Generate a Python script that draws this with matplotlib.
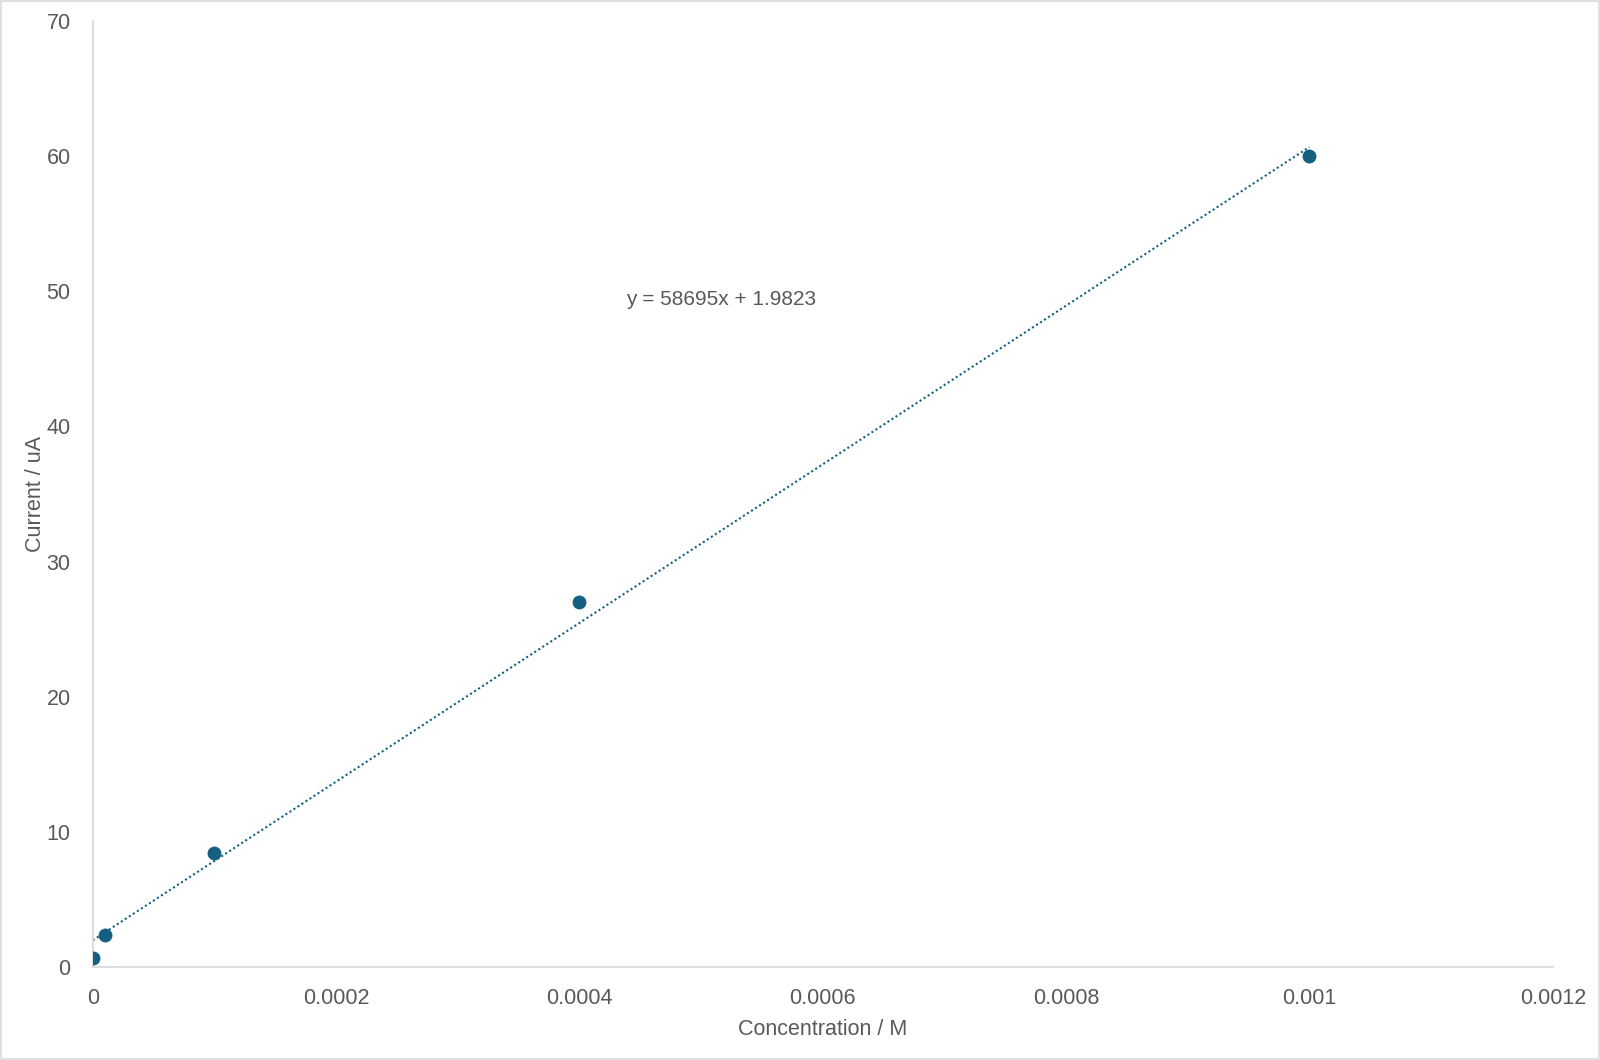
import numpy as np
import matplotlib
matplotlib.use("Agg")
import matplotlib.pyplot as plt
from matplotlib.patches import Rectangle

# values
conc = [0.0, 0.00001, 0.0001, 0.0004, 0.001]
current = [0.65, 2.35, 8.45, 27.0, 60.0]

# trendline as printed on the chart
slope = 58695
intercept = 1.9823
eq_label = "y = 58695x + 1.9823"

x_ticks = [0, 0.0002, 0.0004, 0.0006, 0.0008, 0.001, 0.0012]
x_tick_labels = ["0", "0.0002", "0.0004", "0.0006", "0.0008", "0.001", "0.0012"]
y_ticks = [0, 10, 20, 30, 40, 50, 60, 70]

blue = "#156082"
grey_text = "#595959"
grey_line = "#d9d9d9"

plt.rcParams['font.family'] = ['Liberation Sans', 'DejaVu Sans']

fig = plt.figure(figsize=(16, 10.6), dpi=100)
ax = fig.add_axes([0.058, 0.0877, 0.9125, 0.8925])

# outer chart border
fig.patches.append(Rectangle((0.0005, 0.0008), 0.999, 0.9985, transform=fig.transFigure,
                             fill=False, edgecolor=grey_line, linewidth=1.2))

ax.scatter(conc, current, s=100, color=blue, zorder=3, linewidths=0)

xs = np.array([min(conc), max(conc)])
ax.plot(xs, slope * xs + intercept, color=blue, linestyle=(0, (1, 1.3)), linewidth=1.5, zorder=2)

ax.text(0.000516, 49.4, eq_label, fontsize=15, color=grey_text, ha='center', va='center')

ax.set_xlim(0, 0.0012)
ax.set_ylim(0, 70)
ax.set_xticks(x_ticks)
ax.set_xticklabels(x_tick_labels)
ax.set_yticks(y_ticks)
ax.tick_params(axis='both', length=0, labelsize=15.5, labelcolor=grey_text)
ax.tick_params(axis='x', pad=15)
ax.tick_params(axis='y', pad=16)

for side in ['top', 'right']:
    ax.spines[side].set_visible(False)
for side in ['left', 'bottom']:
    ax.spines[side].set_color(grey_line)
    ax.spines[side].set_linewidth(1.3)

ax.set_xlabel("Concentration / M", fontsize=15.5, color=grey_text, labelpad=7)
ax.set_ylabel("Current / uA", fontsize=15.5, color=grey_text, labelpad=0)

fig.savefig("out.png", dpi=100)
